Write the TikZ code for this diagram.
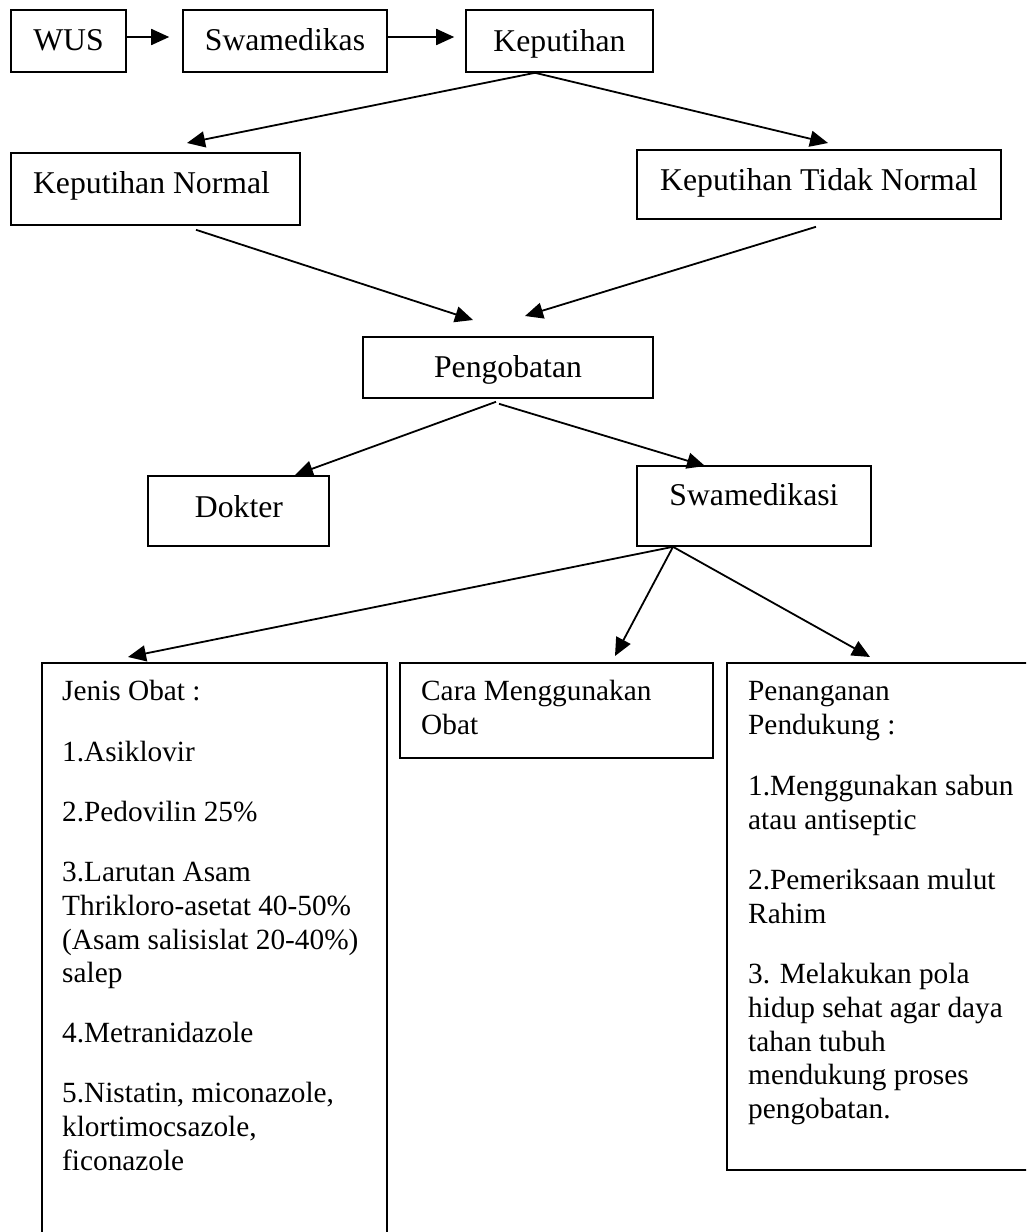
\documentclass[tikz,border=0pt]{standalone}
\usepackage{fontspec}
\setmainfont{Liberation Serif}
\usetikzlibrary{arrows.meta,calc}
\newcommand{\bigtxt}{\fontsize{31.7}{36}\selectfont}
\newcommand{\smtxt}{\fontsize{29.3}{34}\selectfont}
\tikzset{
  box/.style={draw, line width=1.6pt, rectangle, inner sep=0pt},
  arr/.style={line width=1.8pt, -{Triangle[length=18pt,width=16pt]}},
  big/.style={anchor=base, inner sep=0pt, font=\bigtxt},
  ln/.style={anchor=base west, inner sep=0pt, font=\smtxt},
}
\begin{document}
\begin{tikzpicture}[x=1pt,y=-1pt]
\useasboundingbox (0,0) rectangle (1026,1232);
\clip (0,0) rectangle (1026,1232);
% boxes
\node[box, minimum width=115pt, minimum height=62pt] (wus) at (68.5,41) {};
\node[box, minimum width=204pt, minimum height=62pt] (sw) at (285,41) {};
\node[box, minimum width=187pt, minimum height=62pt] (kep) at (559.5,41) {};
\node[box, minimum width=289pt, minimum height=72pt] (kn) at (155.5,189) {};
\node[box, minimum width=364pt, minimum height=69pt] (ktn) at (819,184.5) {};
\node[box, minimum width=290pt, minimum height=61pt] (peng) at (508,367.5) {};
\node[box, minimum width=181pt, minimum height=70pt] (dok) at (238.5,511) {};
\node[box, minimum width=234pt, minimum height=80pt] (swi) at (754,506) {};
\node[box, minimum width=345pt, minimum height=597pt] (jen) at (214.5,961.5) {};
\node[box, minimum width=313pt, minimum height=95pt] (cara) at (556.5,710.5) {};
\node[box, minimum width=323pt, minimum height=507pt] (pen) at (888.5,916.5) {};
% box texts
\node[big] (twus) at (68.5,50) {WUS};
\node[big] (tsw) at (285,50) {Swamedikas};
\node[big] (tkep) at (559.5,51) {Keputihan};
\node[big] (tkn) at (151.5,193) {Keputihan Normal};
\node[big] (tktn) at (819,190) {Keputihan Tidak Normal};
\node[big] (tpeng) at (508,377) {Pengobatan};
\node[big] (tdok) at (239,517) {Dokter};
\node[big] (tswi) at (754,505) {Swamedikasi};
% Jenis Obat
\node[ln] (j1) at (62,700) {Jenis Obat :};
\node[ln] (j2) at (62,761) {1.Asiklovir};
\node[ln] (j3) at (62,821) {2.Pedovilin 25\%};
\node[ln] (j4) at (62,881) {3.Larutan Asam};
\node[ln] (j5) at (62,915) {Thrikloro-asetat 40-50\%};
\node[ln] (j6) at (62,949) {(Asam salisislat 20-40\%)};
\node[ln] (j7) at (62,982) {salep};
\node[ln] (j8) at (62,1042) {4.Metranidazole};
\node[ln] (j9) at (62,1102) {5.Nistatin, miconazole,};
\node[ln] (j10) at (62,1136) {klortimocsazole,};
\node[ln] (j11) at (62,1170) {ficonazole};
% Cara
\node[ln] (c1) at (421,700) {Cara Menggunakan};
\node[ln] (c2) at (421,734) {Obat};
% Penanganan
\node[ln] (p1) at (748,700) {Penanganan};
\node[ln] (p2) at (748,734) {Pendukung :};
\node[ln] (p3) at (748,795) {1.Menggunakan sabun};
\node[ln] (p4) at (748,829) {atau antiseptic};
\node[ln] (p5) at (748,889) {2.Pemeriksaan mulut};
\node[ln] (p6) at (748,923) {Rahim};
\node[ln] (p7) at (748,983) {3. Melakukan pola};
\node[ln] (p8) at (748,1017) {hidup sehat agar daya};
\node[ln] (p9) at (748,1051) {tahan tubuh};
\node[ln] (p10) at (748,1084) {mendukung proses};
\node[ln] (p11) at (748,1118) {pengobatan.};
% arrow tips
\coordinate (tkn1) at (187,143);
\coordinate (tktn1) at (828,143);
\coordinate (tpa) at (473,320);
\coordinate (tpb) at (525,316);
\coordinate (tdk) at (295,475);
\coordinate (tsi) at (705,466);
\coordinate (tje) at (128,657);
\coordinate (tca) at (615,656);
\coordinate (tpe) at (870,657);
% connectors
\draw[arr, shorten >=13pt] ([yshift=4pt]wus.east) -- ([yshift=4pt]sw.west);
\draw[arr, shorten >=11pt] ([yshift=4pt]sw.east) -- ([yshift=4pt]kep.west);
\draw[arr] ($(kep.south)+(-24.5,0)$) -- (tkn1);
\draw[arr] ($(kep.south)+(-24.5,0)$) -- (tktn1);
\draw[arr] ($(kn.south)+(40.5,4)$) -- (tpa);
\draw[arr] ($(ktn.south)+(-3,7)$) -- (tpb);
\draw[arr] ($(peng.south)+(-12,3)$) -- (tdk);
\draw[arr] ($(peng.south)+(-9,5)$) -- (tsi);
\draw[arr] ($(swi.south)+(-81,0)$) -- (tje);
\draw[arr] ($(swi.south)+(-81,0)$) -- (tca);
\draw[arr] ($(swi.south)+(-81,0)$) -- (tpe);
\end{tikzpicture}
\end{document}
